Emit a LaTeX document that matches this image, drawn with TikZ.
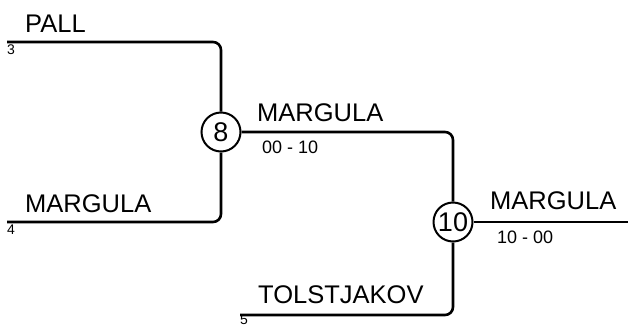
\documentclass[tikz,border=0pt]{standalone}
\usepackage{fontspec}
\setmainfont{Liberation Sans}
\usetikzlibrary{positioning}

\begin{document}
\begin{tikzpicture}[x=1pt,y=-1pt,
    line/.style={line width=2.6pt,rounded corners=8pt},
    match/.style={circle,draw,line width=2pt,minimum size=39pt,inner sep=0pt,
      font=\fontsize{27}{30}\selectfont},
    player/.style={anchor=base west,inner sep=0pt,font=\fontsize{25.5}{30}\selectfont},
    seed/.style={anchor=base west,inner sep=0pt,font=\fontsize{14}{16}\selectfont},
    score/.style={anchor=base west,inner sep=0pt,font=\fontsize{18}{22}\selectfont}]
  % page size in px: 628 x 327
  \useasboundingbox (0,0) rectangle (628,327);

  % matches
  \node[match] (m8)  at (221,132) {8};
  \node[match] (m10) at (453,222) {10};

  % entry lines
  \coordinate (p3) at (7,42);
  \coordinate (p4) at (7,222);
  \coordinate (p5) at (240,315);
  \coordinate (win) at (628,222);

  \draw[line] (p3) -| (m8);
  \draw[line] (p4) -| (m8);
  \draw[line] (m8) -| (m10);
  \draw[line] (p5) -| (m10);
  \draw[line] (m10) -- (win);

  % names
  \node[player] (pall)  at (25,32)   {PALL};
  \node[player] (marg1) at (25,212)  {MARGULA};
  \node[player] (marg2) at (257,121) {MARGULA};
  \node[player] (tols)  at (258,303) {TOLSTJAKOV};
  \node[player] (marg3) at (490,209) {MARGULA};

  % seeds
  \node[seed] (s3) at (7,54)   {3};
  \node[seed] (s4) at (7,234)  {4};
  \node[seed] (s5) at (240,324) {5};

  % results
  \node[score] (r8)  at (262,153) {00 - 10};
  \node[score] (r10) at (497,243) {10 - 00};
\end{tikzpicture}
\end{document}
